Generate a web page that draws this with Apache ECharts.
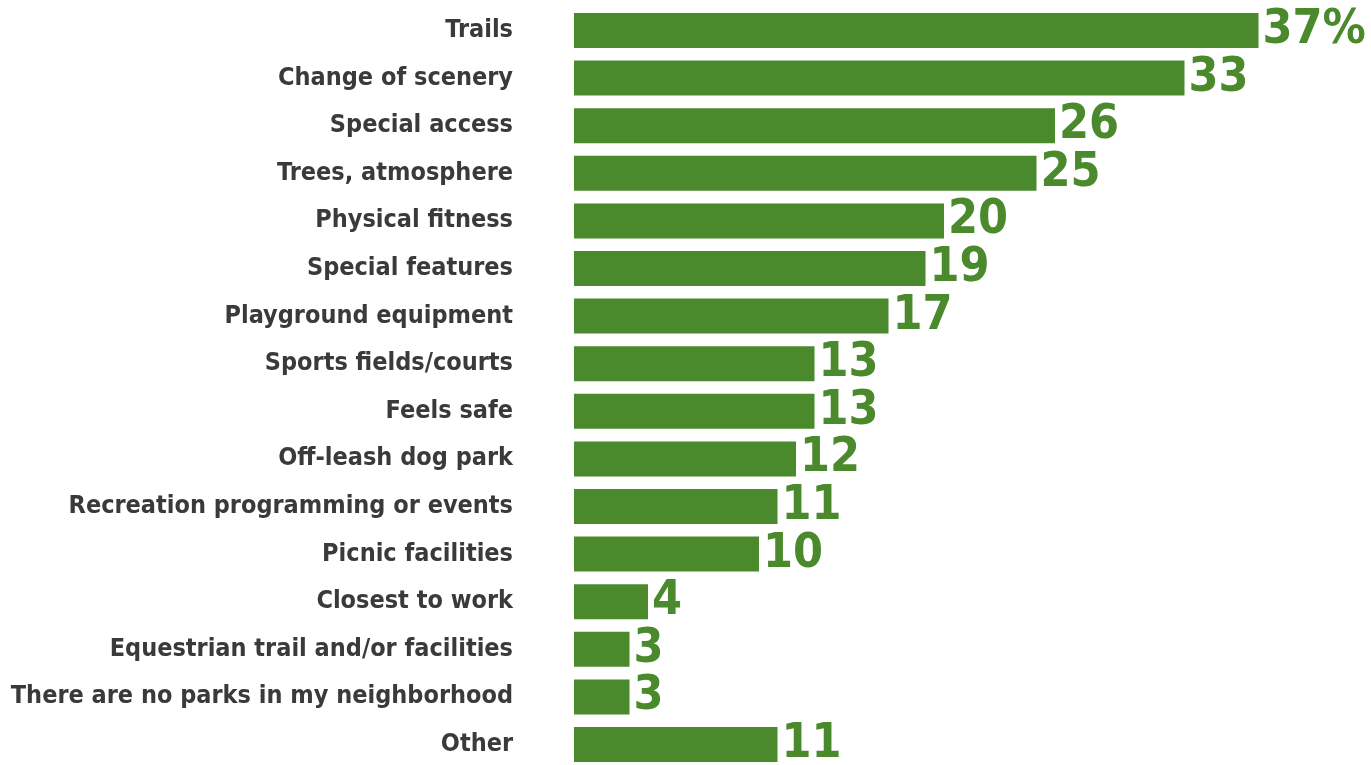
<!DOCTYPE html>
<html><head><meta charset="utf-8">
<script src="https://cdn.jsdelivr.net/npm/echarts@6/dist/echarts.min.js"></script>
<style>html,body{margin:0;padding:0;background:#fff;overflow:hidden}#c{width:1371px;height:772px}</style>
</head><body><div id="c"></div>
<script>
const categories = ["Trails","Change of scenery","Special access","Trees, atmosphere","Physical fitness","Special features","Playground equipment","Sports fields/courts","Feels safe","Off-leash dog park","Recreation programming or events","Picnic facilities","Closest to work","Equestrian trail and/or facilities","There are no parks in my neighborhood","Other"];
const values = [37,33,26,25,20,19,17,13,13,12,11,10,4,3,3,11];
const valueSuffix = ["%","","","","","","","","","","","","","","",""];

const chart = echarts.init(document.getElementById('c'));
chart.setOption({
  animation:false,
  grid:{left:574, top:6.7, width:777, height:761.6},
  xAxis:{type:'value', min:0, max:42, show:false},
  yAxis:{type:'category', data:categories, inverse:true,
    axisLine:{show:false}, axisTick:{show:false},
    axisLabel:{margin:61, color:'#3a3a3a', fontSize:25, fontWeight:'bold', fontFamily:'DejaVu Sans Condensed'}},
  series:[{type:'bar', data:values, barCategoryGap:'26.5%',
    itemStyle:{color:'#4a8a2c'},
    label:{show:true, position:'right', distance:4, color:'#4a8a2c', fontSize:48, fontWeight:'bold', fontFamily:'DejaVu Sans Condensed',
      formatter:p=>p.value+valueSuffix[p.dataIndex]}}]
});
</script></body></html>
